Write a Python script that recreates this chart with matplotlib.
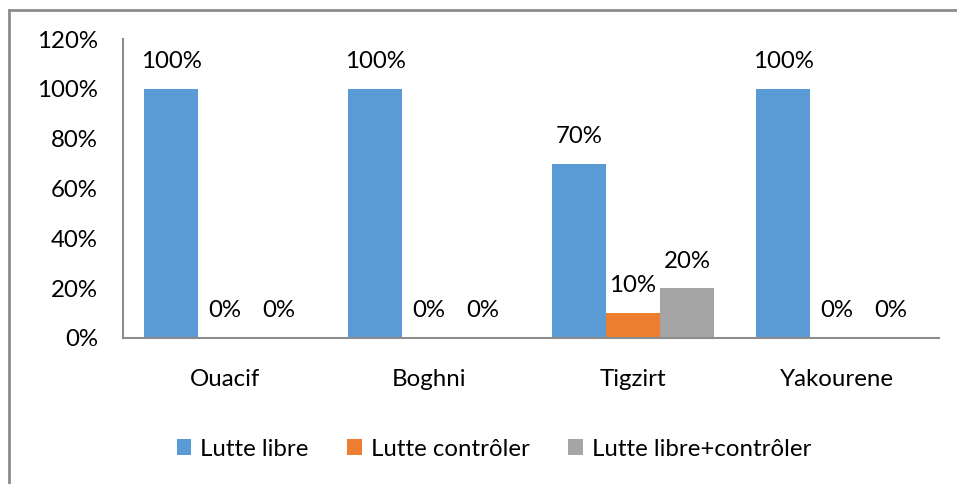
import matplotlib
matplotlib.use("Agg")
import matplotlib.pyplot as plt
from matplotlib.lines import Line2D
import numpy as np

categories = ["Ouacif", "Boghni", "Tigzirt", "Yakourene"]
series_names = ["Lutte libre", "Lutte contrôler", "Lutte libre+contrôler"]
lutte_libre = [1.00, 1.00, 0.70, 1.00]
lutte_controler = [0.00, 0.00, 0.10, 0.00]
lutte_libre_controler = [0.00, 0.00, 0.20, 0.00]
yticks = [0, 0.2, 0.4, 0.6, 0.8, 1.0, 1.2]
ytick_labels = ["0%", "20%", "40%", "60%", "80%", "100%", "120%"]

colors = ["#5B9BD5", "#ED7D31", "#A5A5A5"]

plt.rcParams['font.family'] = ['Lato', 'DejaVu Sans']
FS = 17.3

W, H = 957, 484
fig = plt.figure(figsize=(W / 100, H / 100), dpi=100)
ax = fig.add_axes([123 / W, 1 - 338 / H, (939 - 123) / W, (338 - 39) / H])

x = np.arange(len(categories))
bw = 54 / 204
series = [lutte_libre, lutte_controler, lutte_libre_controler]
for i, (vals, name, c) in enumerate(zip(series, series_names, colors)):
    pos = x + (i - 1) * bw
    ax.bar(pos, vals, width=bw, color=c, label=name, linewidth=0)
    for p, v in zip(pos, vals):
        ax.annotate(f"{v * 100:.0f}%", (p, v), xytext=(0, 19.5), textcoords="offset points",
                    ha="center", va="center", fontsize=FS, color="#000000")

ax.set_xlim(-0.5, len(categories) - 0.5)
ax.set_ylim(0, 1.2)
ax.set_yticks(yticks)
ax.set_yticklabels(ytick_labels, fontsize=FS)
ax.set_xticks(x)
ax.set_xticklabels(categories, fontsize=FS)
ax.tick_params(axis='y', length=0, pad=18)
ax.tick_params(axis='x', length=0, pad=22)
for s in ["top", "right"]:
    ax.spines[s].set_visible(False)
for s in ["left", "bottom"]:
    ax.spines[s].set_color("#8c8c8c")
    ax.spines[s].set_linewidth(1.5)

fig.legend(loc="center", bbox_to_anchor=(494 / W, 1 - 449 / H), ncol=3, frameon=False,
           fontsize=FS, handlelength=0.6, handleheight=0.6, handletextpad=0.38, columnspacing=1.6)

fig.add_artist(Line2D([9 / W, 1], [1 - 10 / H, 1 - 10 / H], transform=fig.transFigure,
                      color="#8c8c8c", linewidth=2))
fig.add_artist(Line2D([9 / W, 9 / W], [0, 1 - 10 / H], transform=fig.transFigure,
                      color="#8c8c8c", linewidth=2))

fig.savefig("out.png", dpi=100)
